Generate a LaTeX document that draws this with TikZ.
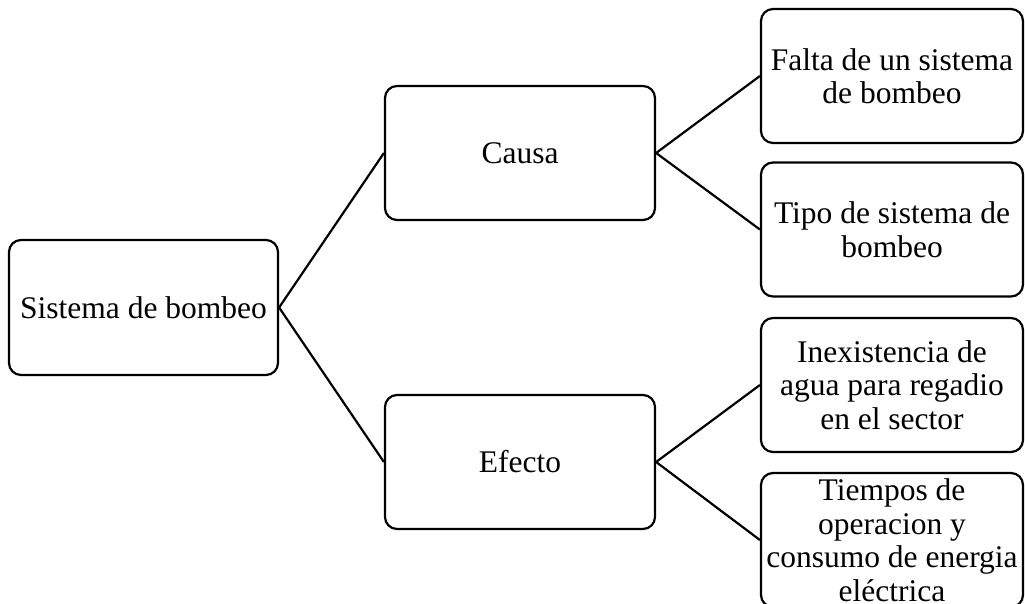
\documentclass[tikz,border=0pt]{standalone}
\usepackage{fontspec}
\setmainfont{Liberation Serif}
\begin{document}
\begin{tikzpicture}[x=1pt,y=-1pt,
    box/.style={draw, line width=2.2pt, rounded corners=12pt, align=center,
      inner sep=0pt, font=\fontsize{31.5}{33.5}\selectfont},
    mid/.style={box, minimum width=270pt, minimum height=134pt},
    leaf/.style={box, minimum width=262pt, minimum height=134pt}]
  \useasboundingbox (0,0) rectangle (1025,604);
  \clip (0,0) rectangle (1025,604);
  \node[box, minimum width=269pt, minimum height=135pt] (root) at (143.5,307.5) {Sistema de bombeo};
  \node[mid] (causa) at (520,153) {Causa};
  \node[mid] (efecto) at (520,462) {Efecto};
  \node[leaf] (falta) at (892,76) {Falta de un sistema\\de bombeo};
  \node[leaf] (tipo) at (892,229.5) {Tipo de sistema de\\bombeo};
  \node[leaf] (inex) at (892,385) {Inexistencia de\\agua para regadio\\en el sector};
  \node[leaf] (tiempos) at (892,540) {Tiempos de\\operacion y\\consumo de energia\\eléctrica};
  \begin{scope}[-, line width=2.2pt]
    \draw (root.east) to (causa.west);
    \draw (root.east) to (efecto.west);
    \draw (causa.east) to (falta.west);
    \draw (causa.east) to (tipo.west);
    \draw (efecto.east) to (inex.west);
    \draw (efecto.east) to (tiempos.west);
  \end{scope}
\end{tikzpicture}
\end{document}
